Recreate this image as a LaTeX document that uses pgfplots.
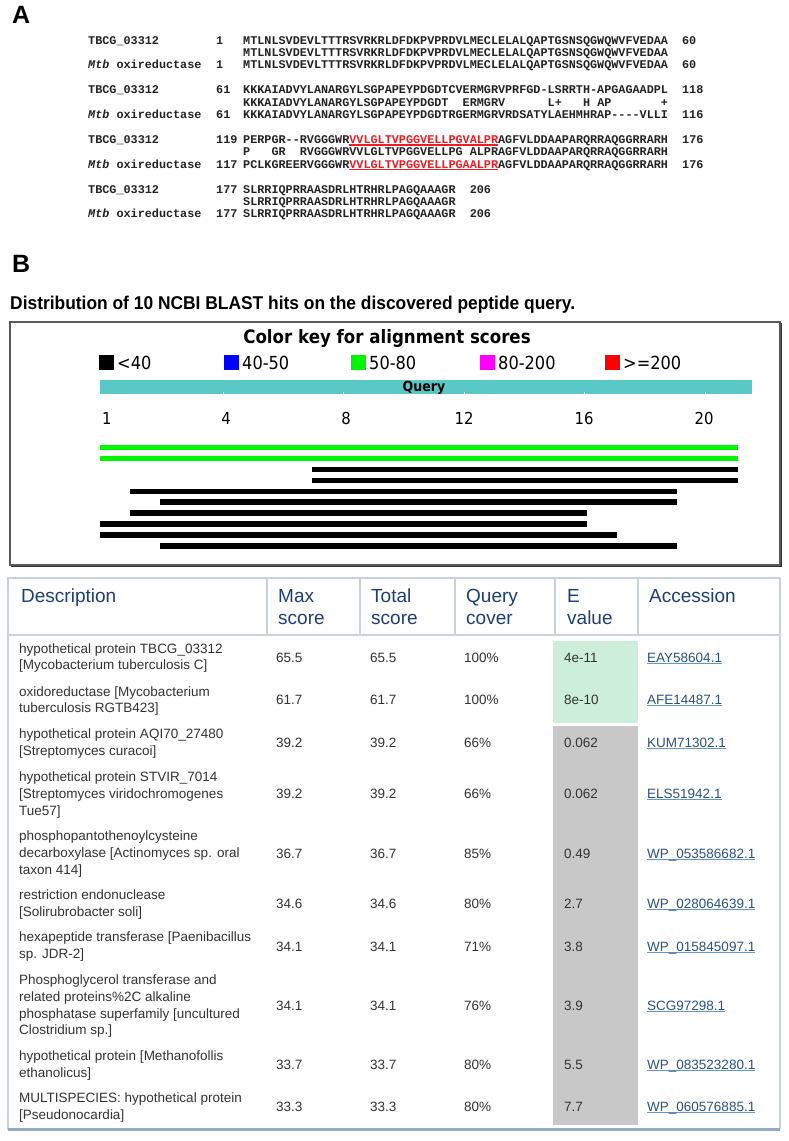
\documentclass[border=0pt]{standalone}
\usepackage{pgfplots}
\pgfplotsset{compat=1.18}
\usepackage{fontspec}
\setmainfont{Liberation Sans}
\setmonofont{Liberation Mono}
\newfontfamily\dvsc[FakeStretch=0.9]{DejaVu Sans}
\newfontfamily\narrow[FakeStretch=0.94]{Liberation Sans}

\definecolor{seqgray}{RGB}{35,35,35}
\definecolor{seqred}{RGB}{238,28,36}
\definecolor{hitgreen}{RGB}{0,245,0}
\definecolor{keyblack}{RGB}{0,0,0}
\definecolor{keyblue}{RGB}{0,0,255}
\definecolor{keymag}{RGB}{255,0,255}
\definecolor{keyred}{RGB}{255,0,0}
\definecolor{qteal}{RGB}{91,200,200}
\definecolor{hdrblue}{RGB}{30,62,122}
\definecolor{txt}{RGB}{51,51,51}
\definecolor{accblue}{RGB}{44,82,130}
\definecolor{ulblue}{RGB}{100,150,200}
\definecolor{egreen}{RGB}{204,238,218}
\definecolor{egray}{RGB}{200,200,200}
\definecolor{tborder}{RGB}{200,210,222}
\definecolor{tbottom}{RGB}{150,172,196}

\tikzset{
  t/.style={inner sep=0pt, anchor=base west, text=txt, font=\fontsize{13.5}{16}\selectfont},
  s/.style={inner sep=0pt, anchor=base west, text=seqgray, font=\fontsize{11.8}{12}\selectfont\ttfamily\bfseries},
  h/.style={inner sep=0pt, anchor=base west, text=hdrblue, font=\fontsize{19}{22}\selectfont},
  k/.style={inner sep=0pt, anchor=base west, font=\fontsize{18}{20}\selectfont\dvsc},
  n/.style={inner sep=0pt, anchor=base, font=\fontsize{16.5}{18}\selectfont\dvsc},
}

% red underlined motif in the alignment
\newcommand\redul[1]{\textcolor{seqred}{\setbox0\hbox{#1}\rlap{\rule[-2.2pt]{\wd0}{1.3pt}}\box0}}
% underlined accession link
\newcommand\acc[1]{\setbox0\hbox{#1}\rlap{\textcolor{ulblue}{\rule[-2.4pt]{\wd0}{1.3pt}}}\textcolor{accblue}{\box0}}
% one table row of numbers: baseline, max, total, cover, evalue, accession
\newcommand\vals[6]{%
  \node[t] at (276,#1) {#2};
  \node[t] at (370,#1) {#3};
  \node[t] at (464,#1) {#4};
  \node[t] at (564,#1) {#5};
  \node[t] at (647,#1) {\acc{#6}};}
% one alignment line: baseline, label, start, sequence
\newcommand\aln[4]{%
  \node[s] at (88,#1) {#2};
  \node[s] at (216,#1) {#3};
  \node[s] at (243,#1) {#4};}

\begin{document}
\begin{tikzpicture}
\begin{axis}[
  width=789pt, height=1141pt, scale only axis,
  xmin=0, xmax=789, ymin=0, ymax=1141, y dir=reverse,
  axis lines=none, clip=false,
]
% page background
\addplot[fill=white, draw=none] coordinates {(0,0)(789,0)(789,1141)(0,1141)} -- cycle;

% ---------------- panel A
\node[inner sep=0pt, anchor=base west, font=\fontsize{25}{25}\selectfont\bfseries] at (12,23) {A};

\aln{44}{TBCG\_03312}{1}{MTLNLSVDEVLTTTRSVRKRLDFDKPVPRDVLMECLELALQAPTGSNSQGWQWVFVEDAA~~60}
\aln{56.4}{}{}{MTLNLSVDEVLTTTRSVRKRLDFDKPVPRDVLMECLELALQAPTGSNSQGWQWVFVEDAA}
\aln{68.8}{{\itshape Mtb}~oxireductase}{1}{MTLNLSVDEVLTTTRSVRKRLDFDKPVPRDVLMECLELALQAPTGSNSQGWQWVFVEDAA~~60}

\aln{93.7}{TBCG\_03312}{61}{KKKAIADVYLANARGYLSGPAPEYPDGDTCVERMGRVPRFGD-LSRRTH-APGAGAADPL~~118}
\aln{106.1}{}{}{KKKAIADVYLANARGYLSGPAPEYPDGDT~~ERMGRV~~~~~~L+~~~H~AP~~~~~~~+}
\aln{118.5}{{\itshape Mtb}~oxireductase}{61}{KKKAIADVYLANARGYLSGPAPEYPDGDTRGERMGRVRDSATYLAEHMHRAP----VLLI~~116}

\aln{143.4}{TBCG\_03312}{119}{PERPGR--RVGGGWR\redul{VVLGLTVPGGVELLPGVALPR}AGFVLDDAAPARQRRAQGGRRARH~~176}
\aln{155.8}{}{}{P~~~GR~~RVGGGWRVVLGLTVPGGVELLPG~ALPRAGFVLDDAAPARQRRAQGGRRARH}
\aln{168.2}{{\itshape Mtb}~oxireductase}{117}{PCLKGREERVGGGWR\redul{VVLGLTVPGGVELLPGAALPR}AGFVLDDAAPARQRRAQGGRRARH~~176}

\aln{193.1}{TBCG\_03312}{177}{SLRRIQPRRAASDRLHTRHRLPAGQAAAGR~~206}
\aln{205.5}{}{}{SLRRIQPRRAASDRLHTRHRLPAGQAAAGR}
\aln{217.9}{{\itshape Mtb}~oxireductase}{177}{SLRRIQPRRAASDRLHTRHRLPAGQAAAGR~~206}

% ---------------- panel B
\node[inner sep=0pt, anchor=base west, font=\fontsize{25}{25}\selectfont\bfseries] at (12,272) {B};
\node[inner sep=0pt, anchor=base west, font=\fontsize{18.5}{20}\selectfont\narrow\bfseries] at (10,309.5) {Distribution of 10 NCBI BLAST hits on the discovered peptide query.};

% graphic frame
\addplot[draw=black!65, line width=1.3pt] coordinates {(10,322)(780,322)(780,565)(10,565)} -- cycle;
\addplot[draw=black!80, line width=1pt] coordinates {(781,323)(781,566)(11,566)};

\node[inner sep=0pt, anchor=base, font=\fontsize{18.5}{20}\selectfont\dvsc\bfseries] at (387,343.5) {Color key for alignment scores};

% color key swatches
\addplot[fill=keyblack, draw=none] coordinates {(99,355)(114,355)(114,370)(99,370)} -- cycle;
\addplot[fill=keyblue, draw=none] coordinates {(224,355)(239,355)(239,370)(224,370)} -- cycle;
\addplot[fill=hitgreen, draw=none] coordinates {(351,355)(366,355)(366,370)(351,370)} -- cycle;
\addplot[fill=keymag, draw=none] coordinates {(480,355)(495,355)(495,370)(480,370)} -- cycle;
\addplot[fill=keyred, draw=none] coordinates {(605,355)(620,355)(620,370)(605,370)} -- cycle;
\node[k] at (117,369) {<40};
\node[k] at (242,369) {40-50};
\node[k] at (369,369) {50-80};
\node[k] at (498,369) {80-200};
\node[k] at (623,369) {>=200};

% query bar
\addplot[fill=qteal, draw=none] coordinates {(100,380)(752,380)(752,394)(100,394)} -- cycle;
\node[inner sep=0pt, anchor=base, font=\fontsize{14}{14}\selectfont\dvsc\bfseries] at (424,391.5) {Query};
\addplot[white, line width=0.8pt] coordinates {(223,391.5)(223,394)};
\addplot[white, line width=0.8pt] coordinates {(343,391.5)(343,394)};
\addplot[white, line width=0.8pt] coordinates {(464,391.5)(464,394)};
\addplot[white, line width=0.8pt] coordinates {(584,391.5)(584,394)};
\addplot[white, line width=0.8pt] coordinates {(705,391.5)(705,394)};
\node[n, anchor=base west] at (102,424) {1};
\node[n] at (226,424) {4};
\node[n] at (346,424) {8};
\node[n] at (464,424) {12};
\node[n] at (584,424) {16};
\node[n] at (704,424) {20};

% hits (pixel start, pixel end)
\addplot[hitgreen, line width=5.5pt] coordinates {(100,447.7)(738,447.7)};
\addplot[hitgreen, line width=5.5pt] coordinates {(100,458.6)(738,458.6)};
\addplot[black, line width=5.5pt] coordinates {(312,469.5)(738,469.5)};
\addplot[black, line width=5.5pt] coordinates {(312,480.4)(738,480.4)};
\addplot[black, line width=5.5pt] coordinates {(130,491.3)(677,491.3)};
\addplot[black, line width=5.5pt] coordinates {(160,502.2)(677,502.2)};
\addplot[black, line width=5.5pt] coordinates {(130,513.1)(587,513.1)};
\addplot[black, line width=5.5pt] coordinates {(100,524.0)(587,524.0)};
\addplot[black, line width=5.5pt] coordinates {(100,534.9)(617,534.9)};
\addplot[black, line width=5.5pt] coordinates {(160,545.8)(677,545.8)};

% ---------------- table
\addplot[fill=egreen, draw=none] coordinates {(553,641)(638,641)(638,723)(553,723)} -- cycle;
\addplot[fill=egray, draw=none] coordinates {(553,726)(638,726)(638,1125)(553,1125)} -- cycle;
\addplot[draw=tborder, line width=1.5pt] coordinates {(780,1129)(8,1129)(8,578)(780,578)(780,1129)};
\addplot[draw=tbottom, line width=2.2pt] coordinates {(8,1129.5)(780,1129.5)};
\addplot[draw=tborder, line width=1.5pt] coordinates {(8,635)(780,635)};
\addplot[draw=tborder, line width=1.5pt] coordinates {(267,578)(267,635)};
\addplot[draw=tborder, line width=1.5pt] coordinates {(360,578)(360,635)};
\addplot[draw=tborder, line width=1.5pt] coordinates {(455,578)(455,635)};
\addplot[draw=tborder, line width=1.5pt] coordinates {(555,578)(555,635)};
\addplot[draw=tborder, line width=1.5pt] coordinates {(638,578)(638,635)};

\node[h] at (21,602) {Description};
\node[h] at (278,602) {Max};   \node[h] at (278,624) {score};
\node[h] at (371,602) {Total}; \node[h] at (371,624) {score};
\node[h] at (466,602) {Query}; \node[h] at (466,624) {cover};
\node[h] at (567,602) {E};     \node[h] at (567,624) {value};
\node[h] at (649,602) {Accession};

\node[t] at (19,653.8) {hypothetical protein TBCG\_03312};
\node[t] at (19,669.8) {[Mycobacterium tuberculosis C]};
\vals{662}{65.5}{65.5}{100\%}{4e-11}{EAY58604.1}

\node[t] at (19,696.8) {oxidoreductase [Mycobacterium};
\node[t] at (19,712.8) {tuberculosis RGTB423]};
\vals{704}{61.7}{61.7}{100\%}{8e-10}{AFE14487.1}

\node[t] at (19,738.8) {hypothetical protein AQI70\_27480};
\node[t] at (19,755.4) {[Streptomyces curacoi]};
\vals{747}{39.2}{39.2}{66\%}{0.062}{KUM71302.1}

\node[t] at (19,781.8) {hypothetical protein STVIR\_7014};
\node[t] at (19,798.4) {[Streptomyces viridochromogenes};
\node[t] at (19,815) {Tue57]};
\vals{798}{39.2}{39.2}{66\%}{0.062}{ELS51942.1}

\node[t] at (19,840.8) {phosphopantothenoylcysteine};
\node[t] at (19,857.4) {decarboxylase [Actinomyces sp. oral};
\node[t] at (19,874) {taxon 414]};
\vals{858}{36.7}{36.7}{85\%}{0.49}{WP\_053586682.1}

\node[t] at (19,899.8) {restriction endonuclease};
\node[t] at (19,916.4) {[Solirubrobacter soli]};
\vals{908}{34.6}{34.6}{80\%}{2.7}{WP\_028064639.1}

\node[t] at (19,941.8) {hexapeptide transferase [Paenibacillus};
\node[t] at (19,958.4) {sp. JDR-2]};
\vals{951}{34.1}{34.1}{71\%}{3.8}{WP\_015845097.1}

\node[t] at (19,984.8) {Phosphoglycerol transferase and};
\node[t] at (19,1001.4) {related proteins\%2C alkaline};
\node[t] at (19,1018) {phosphatase superfamily [uncultured};
\node[t] at (19,1034.6) {Clostridium sp.]};
\vals{1010}{34.1}{34.1}{76\%}{3.9}{SCG97298.1}

\node[t] at (19,1060.8) {hypothetical protein [Methanofollis};
\node[t] at (19,1077.4) {ethanolicus]};
\vals{1069}{33.7}{33.7}{80\%}{5.5}{WP\_083523280.1}

\node[t] at (19,1102.8) {MULTISPECIES: hypothetical protein};
\node[t] at (19,1119.4) {[Pseudonocardia]};
\vals{1111}{33.3}{33.3}{80\%}{7.7}{WP\_060576885.1}
\end{axis}
\end{tikzpicture}
\end{document}
